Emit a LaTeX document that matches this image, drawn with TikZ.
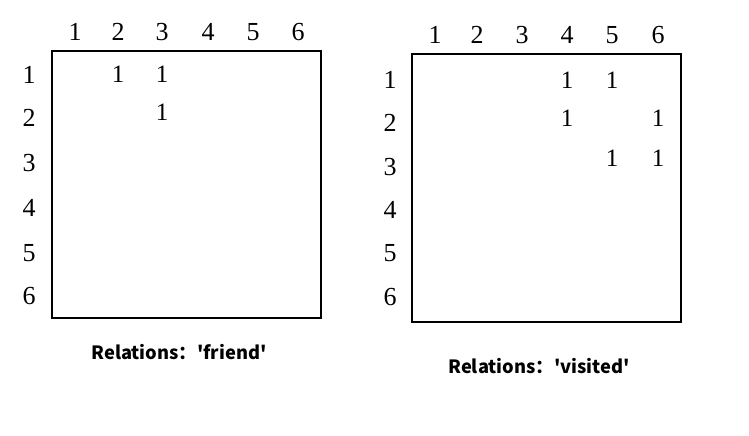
\documentclass[tikz,border=0pt]{standalone}
\usepackage{fontspec}
\setmainfont{Liberation Serif}
\newfontfamily\capfont{Noto Sans CJK SC}
\begin{document}
\begin{tikzpicture}[x=1pt,y=-1pt,
  lbl/.style={font=\fontsize{26}{26}\selectfont, inner sep=0pt, anchor=center},
  ent/.style={font=\fontsize{25}{25}\selectfont, inner sep=0pt, anchor=center},
  mbox/.style={draw, line width=1.6pt},
  captxt/.style={font=\capfont\bfseries\fontsize{18.3}{18.3}\selectfont, inner sep=0pt, anchor=center}]
\useasboundingbox (0,0) rectangle (749,436);
% left matrix
\node[mbox, minimum width=269pt, minimum height=267pt, inner sep=0pt] (Lbox) at (186.5,184.5) {};
\foreach \i/\x in {1/75,2/118,3/162,4/208,5/253,6/298}
  \node[lbl] (Lc\i) at (\x,32) {\i};
\foreach \i/\y in {1/75,2/118,3/163,4/208,5/253,6/296}
  \node[lbl] (Lr\i) at (29,\y) {\i};
\node[ent] (L12) at (118,74) {1};
\node[ent] (L13) at (162,74) {1};
\node[ent] (L23) at (162,112) {1};
\node[captxt] (Lcap) at (179,352) {Relations：'friend'};
% right matrix
\node[mbox, minimum width=269pt, minimum height=268pt, inner sep=0pt] (Rbox) at (546.5,188) {};
\foreach \i/\x in {1/435,2/477,3/522,4/567,5/612,6/658}
  \node[lbl] (Rc\i) at (\x,35) {\i};
\foreach \i/\y in {1/80,2/123,3/167,4/210,5/253,6/297}
  \node[lbl] (Rr\i) at (390,\y) {\i};
\node[ent] (R14) at (567,80) {1};
\node[ent] (R15) at (612,80) {1};
\node[ent] (R24) at (567,118) {1};
\node[ent] (R26) at (658,118) {1};
\node[ent] (R35) at (612,158) {1};
\node[ent] (R36) at (658,158) {1};
\node[captxt] (Rcap) at (539,366) {Relations：'visited'};
\end{tikzpicture}
\end{document}
